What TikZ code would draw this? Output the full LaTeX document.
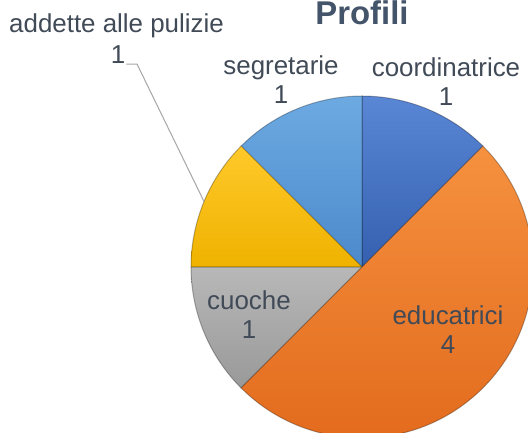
\documentclass[tikz,border=0pt]{standalone}
\usepackage{fontspec}
\setmainfont{Liberation Sans}
\usetikzlibrary{calc}
\definecolor{titlecol}{HTML}{44546A}
\definecolor{labcol}{HTML}{414A57}
\definecolor{leadcol}{HTML}{A6A6A6}
\definecolor{coordT}{HTML}{5A86D6}
\definecolor{coordB}{HTML}{3560B0}
\definecolor{eduT}{HTML}{F5913F}
\definecolor{eduB}{HTML}{E2691C}
\definecolor{cuoT}{HTML}{B8B8B8}
\definecolor{cuoB}{HTML}{999999}
\definecolor{addT}{HTML}{FFC92A}
\definecolor{addB}{HTML}{EFB200}
\definecolor{segT}{HTML}{6DAAE2}
\definecolor{segB}{HTML}{4B89CB}
\begin{document}
\begin{tikzpicture}[x=1bp,y=1bp,
  lab/.style={text=labcol,font=\fontsize{26}{29}\selectfont,align=center,anchor=base,inner sep=1bp},
  wedge/.style={draw=black,draw opacity=0.28,line width=1bp},
  leader/.style={draw=leadcol,line width=1bp}]
\clip (0,0) rectangle (528,432);
\fill[white] (0,0) rectangle (528,432);
\coordinate (c) at (362,165);
% wedges
\path[wedge,top color=coordT,bottom color=coordB] (c) -- ++(45:171bp) arc[start angle=45,end angle=90,radius=171bp] -- cycle;
\path[wedge,top color=segT,bottom color=segB] (c) -- ++(90:171bp) arc[start angle=90,end angle=135,radius=171bp] -- cycle;
\path[wedge,top color=addT,bottom color=addB] (c) -- ++(135:171bp) arc[start angle=135,end angle=180,radius=171bp] -- cycle;
\path[wedge,top color=cuoT,bottom color=cuoB] (c) -- ++(180:171bp) arc[start angle=180,end angle=225,radius=171bp] -- cycle;
\path[wedge,top color=eduT,bottom color=eduB] (c) -- ++(225:171bp) arc[start angle=225,end angle=405,radius=171bp] -- cycle;
% title
\node[text=titlecol,font=\fontsize{33}{36}\selectfont\bfseries,anchor=base] (title) at (362,407) {Profili};
% labels (base anchor = baseline of the last line)
\node[lab] (addName) at (116.5,399) {addette alle pulizie};
\node[lab] (addVal) at (118,369) {1};
\node[lab] (seg) at (281,329) {segretarie\\1};
\node[lab] (coord) at (446,327) {coordinatrice\\1};
\node[lab] (cuo) at (249,94) {cuoche\\1};
\node[lab] (edu) at (448,79) {educatrici\\4};
% leader line
\coordinate (lead) at ($(c)+(157.5:171bp)$);
\coordinate (bend) at (137,368);
\draw[leader] (lead) -- (bend) -- (addVal.east |- bend);
\end{tikzpicture}
\end{document}
